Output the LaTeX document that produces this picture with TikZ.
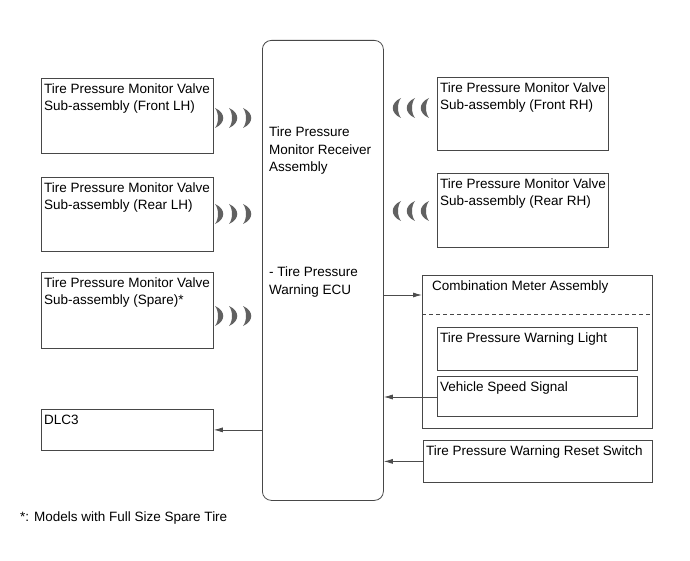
\documentclass[tikz,border=0pt]{standalone}
\usepackage{fontspec}
\setmainfont{Liberation Sans}
\usetikzlibrary{arrows.meta}
\begin{document}
\begin{tikzpicture}[x=1pt,y=-1pt,
  box/.style={draw=black!72, line width=0.8pt, inner sep=0pt, anchor=north west},
  txt/.style={font=\fontsize{13.5}{17.5}\selectfont, align=left, inner sep=0pt, anchor=north west, text=black},
  conn/.style={draw=black!70, line width=0.8pt, -{Latex[length=9pt,width=5pt]}},
  wave/.style={fill=black!62, draw=none}]
\useasboundingbox[fill=white] (0,0) rectangle (690,561);
\newcommand\mybox[6]{%
  \node[box, minimum width={(#4-#2)*1pt}, minimum height={(#5-#3)*1pt}] (#1) at (#2,#3) {};
  \node[txt] (#1-t) at ([xshift=3pt,yshift=-5.5pt]#1.north west) {#6};}
% waves: right-bulging crescent at (x,y) tips on the left
\newcommand\wavR[2]{\fill[wave] (#1,#2-10) .. controls (#1+11,#2-5) and (#1+11,#2+5) .. (#1,#2+10)
   .. controls (#1+4,#2+5) and (#1+4,#2-5) .. (#1,#2-10);}
\newcommand\wavL[2]{\fill[wave] (#1,#2-10) .. controls (#1-11,#2-5) and (#1-11,#2+5) .. (#1,#2+10)
   .. controls (#1-4,#2+5) and (#1-4,#2-5) .. (#1,#2-10);}

% receiver
\node[box, rounded corners=9pt, minimum width=121pt, minimum height=460pt] (recv) at (262,40) {};
\node[txt] (recv-t1) at (269,127) {Tire Pressure\\Monitor Receiver\\Assembly};
\node[txt] (recv-t2) at (269,267) {- Tire Pressure\\Warning ECU};

% left boxes
\mybox{flh}{41}{78}{213}{153}{Tire Pressure Monitor Valve\\Sub-assembly (Front LH)}
\mybox{rlh}{41}{177}{213}{251}{Tire Pressure Monitor Valve\\Sub-assembly (Rear LH)}
\mybox{sp}{41}{272}{213}{348}{Tire Pressure Monitor Valve\\Sub-assembly (Spare)*}
\mybox{dlc}{41}{409}{213}{450}{DLC3}

% right boxes
\mybox{frh}{437}{77}{608}{150}{Tire Pressure Monitor Valve\\Sub-assembly (Front RH)}
\mybox{rrh}{437}{173}{608}{247}{Tire Pressure Monitor Valve\\Sub-assembly (Rear RH)}
\node[box, minimum width=230pt, minimum height=153pt] (meter) at (422,275) {};
\node[txt] (meter-t) at (432,281) {Combination Meter Assembly};
\coordinate (dl) at (0,314);
\draw[black!72, line width=0.8pt, dash pattern=on 4pt off 3pt] (meter.west |- dl) -- (meter.east |- dl);
\mybox{light}{437}{327}{637}{370}{Tire Pressure Warning Light}
\mybox{vss}{437}{376}{637}{416}{Vehicle Speed Signal}
\mybox{reset}{423}{440}{652}{482}{Tire Pressure Warning Reset Switch}

% connectors
\coordinate (y1) at (0,295);
\coordinate (y2) at (0,397);
\draw[conn] (recv.east |- y1) -- (meter.west |- y1);
\draw[conn] (vss.west |- y2) -- (recv.east |- y2);
\draw[conn] (reset.west) -- (recv.east |- reset.west);
\draw[conn] (recv.west |- dlc.east) -- (dlc.east);

% waves
\foreach \yy in {118,214,316} {\wavR{215}{\yy}\wavR{229}{\yy}\wavR{243}{\yy}}
\foreach \yy in {108,211} {\wavL{401}{\yy}\wavL{415}{\yy}\wavL{429}{\yy}}

\node[txt] (note) at (20,512) {*: Models with Full Size Spare Tire};
\end{tikzpicture}
\end{document}
